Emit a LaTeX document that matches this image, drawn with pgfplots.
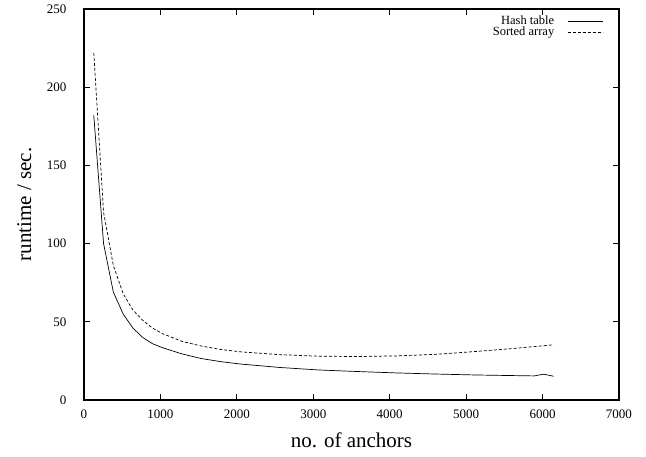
\documentclass[border=0pt]{standalone}
\usepackage{fontspec}
\setmainfont{Liberation Serif}
\usepackage{pgfplots}
\pgfplotsset{compat=1.18}
\begin{document}
\begin{tikzpicture}
\path (-84pt,-56pt) rectangle (562pt,400pt);
\begin{axis}[
    scale only axis,
    width=535pt, height=391pt,
    xmin=0, xmax=7000, ymin=0, ymax=250,
    xtick={0,1000,...,7000}, ytick={0,50,...,250},
    scaled x ticks=false,
    /pgf/number format/assume math mode=true,
    /pgf/number format/set thousands separator={},
    tick align=inside, major tick length=6pt,
    minor tick num=0,
    axis line style={line width=1.1pt},
    tick style={line width=0.8pt, black},
    ticklabel style={font=\fontsize{13}{15}\selectfont},
    xticklabel style={yshift=-6pt},
    yticklabel style={xshift=-14pt},
    xlabel={no. of anchors}, ylabel={runtime / sec.},
    label style={font=\fontsize{21}{24}\selectfont},
    xlabel style={at={(axis description cs:0.5,0)}, anchor=base, yshift=-47pt},
    ylabel style={at={(axis description cs:-0.099,0.5)}, anchor=base},
    legend style={draw=none, fill=none, font=\fontsize{12.5}{12.5}\selectfont,
        at={(0.976,0.993)}, anchor=north east, row sep=-3pt},
    legend cell align=right,
    legend plot pos=right,
    legend image code/.code={\path (0pt,0pt); \draw[#1] (11pt,0pt) -- (46pt,0pt);},
]
\addplot[black, line width=0.7pt] coordinates {
(128,182) (256,100) (384,69) (512,55) (640,46) (768,40) (896,36) (1024,33.5)
(1280,29.5) (1536,26.5) (1792,24.5) (2048,23) (2560,20.8) (3072,19.2)
(3584,18.2) (4096,17.3) (4608,16.6) (5120,16) (5632,15.6) (5888,15.4)
(6016,16.5) (6144,15.2)};
\addlegendentry{Hash table}
\addplot[black, line width=0.7pt, dash pattern=on 3pt off 2pt] coordinates {
(128,222) (256,120) (384,86) (512,68) (640,57.5) (768,51) (896,46) (1024,42.5)
(1280,37.5) (1536,34.5) (1792,32.3) (2048,30.8) (2560,29) (3072,28)
(3584,27.8) (4096,28.2) (4608,29.2) (5120,31) (5632,33) (6144,35.3)};
\addlegendentry{Sorted array}
\end{axis}
\end{tikzpicture}
\end{document}
